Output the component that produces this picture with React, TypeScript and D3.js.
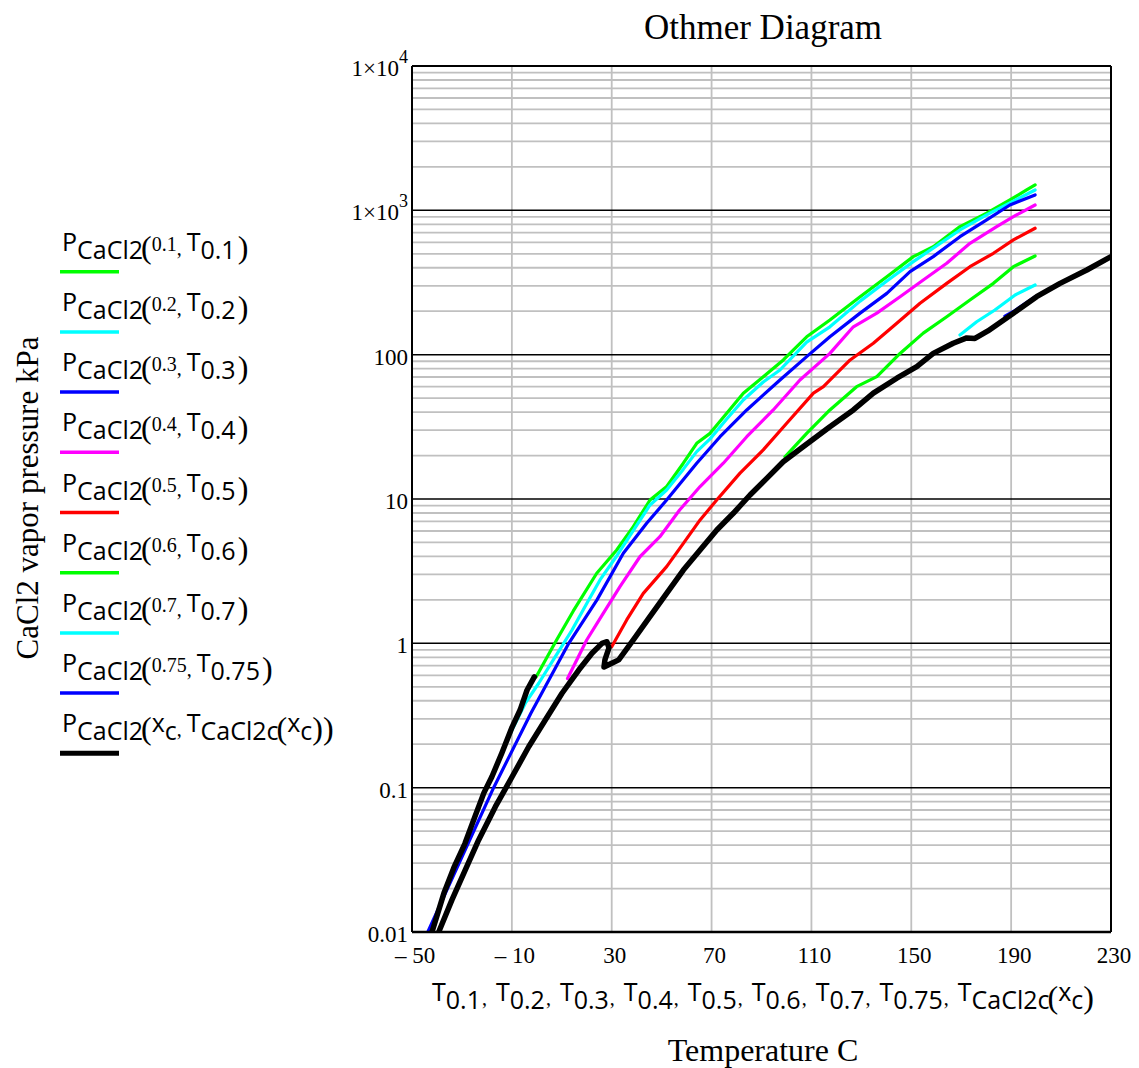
import React from 'react';
import * as d3 from 'd3';

type Pt = [number, number];

const xTicks = [-50, -10, 30, 70, 110, 150, 190, 230];
const xTickLabels = ['\u2013 50', '\u2013 10', '30', '70', '110', '150', '190', '230'];
const yTicks = [0.01, 0.1, 1, 10, 100, 1000, 10000];
const yTickMant = ['0.01', '0.1', '1', '10', '100', '1\u00d710', '1\u00d710'];
const yTickExp = ['', '', '', '', '', '3', '4'];

const legendArgs = ['0.1', '0.2', '0.3', '0.4', '0.5', '0.6', '0.7', '0.75'];
const seriesColors = ['#00ff00', '#00ffff', '#0000ff', '#ff00ff', '#ff0000', '#00ff00', '#00ffff', '#0000ff', '#000000'];

// [T (C), P (kPa)]
const w01: Pt[] = [[-0.3, 0.585], [7.69, 1.038], [14.62, 1.676], [24.0, 3.06], [32.0, 4.43], [38.65, 6.43], [45.34, 9.84], [52.03, 12.2], [58.68, 17.7], [64.05, 24.3], [69.38, 28.5], [76.07, 39.3], [82.72, 54.1], [90.73, 70.4], [98.74, 91.9], [108.1, 133], [117.4, 174], [129.5, 252], [140.2, 347], [150.8, 478], [158.8, 560], [169.5, 771], [180.2, 955], [189.5, 1180], [196.2, 1384], [199.6, 1500]];
const w02: Pt[] = [[-17, 0.131], [-9.94, 0.251], [-4.61, 0.385], [0.76, 0.529], [7.41, 0.809], [14.1, 1.237], [20.78, 1.996], [25.31, 2.75], [32.0, 4.03], [45.34, 9.09], [52.0, 11.55], [58.7, 16.1], [64.05, 21.3], [69.4, 26.1], [76.07, 35.8], [82.7, 48.5], [90.7, 64.7], [97.4, 78.3], [108.1, 122], [117.4, 156], [129.5, 235], [140.2, 324], [150.8, 441], [169.5, 731], [180.2, 929], [189.5, 1125], [199.6, 1384]];
const w03: Pt[] = [[-45, 0.0089], [-36.65, 0.01854], [-17.3, 0.1], [-2.33, 0.329], [12.8, 1.0], [24.1, 2.0], [34.65, 4.21], [44.0, 6.79], [52.0, 9.84], [64.05, 17.7], [73.4, 27.0], [84.1, 41.4], [97.4, 66.8], [108.1, 96.9], [117.4, 133], [129.5, 194], [140.2, 266], [149.5, 376], [158.8, 478], [169.5, 657], [180.2, 858], [189.5, 1089], [199.6, 1279]];
const w04: Pt[] = [[12.3, 0.57], [19.98, 1.055], [26.6, 1.615], [33.3, 2.47], [41.3, 3.98], [49.3, 5.48], [57.2, 8.39], [65.4, 12.2], [74.7, 17.7], [84.1, 27.0], [94.7, 41.4], [105.4, 66.8], [117.4, 102], [126.8, 156], [136.2, 194], [145.5, 252], [154.8, 329], [164.2, 430], [173.5, 591], [184.2, 771], [190.9, 904], [199.6, 1089]];
const w05: Pt[] = [[30.0, 0.948], [36.0, 1.452], [42.65, 2.22], [52.0, 3.40], [58.7, 4.93], [65.4, 7.16], [72.06, 9.84], [81.4, 15.1], [90.7, 21.9], [100.1, 33.5], [110.8, 54.1], [114.8, 60.0], [125.5, 91.9], [134.8, 120], [144.2, 165], [153.5, 227], [164.2, 312], [173.5, 407], [182.9, 504], [190.9, 624], [199.6, 751]];
const w06: Pt[] = [[99.4, 19.6], [108.1, 28.5], [117.4, 41.4], [128.1, 60.0], [136.2, 70.4], [145.5, 102], [154.8, 141], [164.2, 183], [173.5, 239], [182.9, 312], [190.9, 407], [199.6, 483]];
const w07: Pt[] = [[169.5, 137], [176.2, 169], [183.5, 204], [191.6, 259], [199.6, 304]];
const w075: Pt[] = [[187.5, 185], [190.9, 199], [199.6, 252]];
const crystal: Pt[] = [[-1.0, 0.585], [-3.9, 0.475], [-6.7, 0.345], [-9.9, 0.263], [-14.0, 0.174], [-18.0, 0.119], [-21.2, 0.092], [-24.8, 0.063], [-28.8, 0.041], [-33.2, 0.028], [-37.2, 0.0186], [-42.0, 0.01], [-44.0, 0.0075], [-39.3, 0.01], [-34.0, 0.0167], [-28.65, 0.0269], [-23.3, 0.0434], [-16.6, 0.0738], [-9.9, 0.119], [-3.25, 0.192], [3.4, 0.294], [10.1, 0.451], [16.8, 0.653], [22.1, 0.853], [26.1, 1.0], [28.1, 1.026], [28.9, 0.93], [27.3, 0.77], [26.9, 0.685], [30.0, 0.728], [32.8, 0.768], [38.65, 1.055], [45.3, 1.53], [52.0, 2.22], [58.7, 3.22], [65.4, 4.43], [72.1, 6.10], [78.7, 7.96], [85.4, 10.66], [92.1, 13.9], [98.7, 18.1], [106.8, 23.1], [117.4, 31.7], [126.8, 41.4], [134.8, 54.1], [144.2, 68.7], [152.2, 82.6], [158.8, 102], [166.8, 120], [172.2, 130.6], [175.5, 129.5], [180.7, 146], [190.9, 193.6], [200.2, 252], [209.6, 312], [220.3, 386], [230, 478]];

const allSeries: Pt[][] = [w01, w02, w03, w04, w05, w06, w07, w075, crystal];

const W = 1139;
const H = 1068;
const SANS = "'Open Sans', 'Noto Sans', sans-serif";
const SERIF = "'Liberation Serif', 'Times New Roman', serif";

type Part = { t: string; k: 'm' | 's' | 'a' | 'p' | 'c'; dx?: number };

function MathText({ x, y, parts }: { x: number; y: number; parts: Part[] }) {
  return (
    <text x={x} y={y} fill="#000">
      {parts.map((p, i) => {
        let fam = SANS, size = 25, yy = y;
        if (p.k === 's') { yy = y + 8; }
        if (p.k === 'a') { fam = SERIF; size = 20; }
        if (p.k === 'c') { fam = SERIF; size = 20; yy = y + 4; }
        if (p.k === 'p') { fam = SERIF; size = 32; yy = y + 7; }
        return (
          <tspan key={i} y={yy} dx={p.dx ?? 0} fontFamily={fam} fontSize={size}>{p.t}</tspan>
        );
      })}
    </text>
  );
}

export default function App() {
  const x = d3.scaleLinear().domain([-50, 230]).range([412, 1111]);
  const y = d3.scaleLog().domain([0.01, 10000]).range([932, 66]);
  const line = d3.line<Pt>().x(d => x(d[0])).y(d => y(d[1]));

  const minor: number[] = [];
  for (let d = -2; d < 4; d++) for (let k = 2; k <= 9; k++) minor.push(k * Math.pow(10, d));

  const legendParts: Part[][] = legendArgs.map(a => [
    { t: 'P', k: 'm' }, { t: 'CaCl2', k: 's' }, { t: '(', k: 'p', dx: -2 }, { t: a, k: 'a' },
    { t: ', ', k: 'c' }, { t: 'T', k: 'm' }, { t: a, k: 's' }, { t: ')', k: 'p', dx: 2 },
  ]);
  legendParts.push([
    { t: 'P', k: 'm' }, { t: 'CaCl2', k: 's' }, { t: '(', k: 'p', dx: -2 }, { t: 'x', k: 'm' }, { t: 'c', k: 's' },
    { t: ', ', k: 'c' }, { t: 'T', k: 'm' }, { t: 'CaCl2c', k: 's' }, { t: '(', k: 'p', dx: -2 }, { t: 'x', k: 'm' },
    { t: 'c', k: 's' }, { t: ')', k: 'p' }, { t: ')', k: 'p' },
  ]);

  const xlabParts: Part[] = [];
  legendArgs.forEach((a, i) => {
    xlabParts.push({ t: 'T', k: 'm', dx: i === 0 ? 0 : 9 }, { t: a, k: 's' }, { t: ',', k: 'c', dx: 1 });
  });
  xlabParts.push({ t: 'T', k: 'm', dx: 9 }, { t: 'CaCl2c', k: 's' }, { t: '(', k: 'p', dx: -2 }, { t: 'x', k: 'm' }, { t: 'c', k: 's' }, { t: ')', k: 'p' });

  const [x0, x1] = x.range();
  const [yb, yt] = y.range();

  return (
    <svg width={W} height={H} style={{ position: 'absolute', left: 0, top: 0, background: '#fff' }}>
      <defs>
        <clipPath id="plot">
          <rect x={x0} y={yt} width={x1 - x0} height={yb - yt} />
        </clipPath>
      </defs>
      <rect x={0} y={0} width={W} height={H} fill="#fff" />
      <text x={763} y={39} textAnchor="middle" fontFamily={SERIF} fontSize={35}>Othmer Diagram</text>

      {/* grid */}
      {minor.map(v => (
        <line key={'m' + v} x1={x0} x2={x1} y1={y(v)} y2={y(v)} stroke="#c0c0c0" strokeWidth={1.8} />
      ))}
      {xTicks.slice(1, -1).map(v => (
        <line key={'v' + v} x1={x(v)} x2={x(v)} y1={yt} y2={yb} stroke="#c0c0c0" strokeWidth={1.8} />
      ))}
      {yTicks.slice(1, -1).map(v => (
        <line key={'M' + v} x1={x0} x2={x1} y1={y(v)} y2={y(v)} stroke="#000" strokeWidth={1.5} />
      ))}

      {/* series */}
      <g clipPath="url(#plot)" fill="none" strokeLinejoin="round" strokeLinecap="round">
        {allSeries.map((s, i) => (
          <path key={i} d={line(s) || ''} stroke={seriesColors[i]} strokeWidth={i === 8 ? 5.5 : 3.2} />
        ))}
      </g>

      {/* frame */}
      <line x1={x0} x2={x1} y1={yt} y2={yt} stroke="#000" strokeWidth={1.8} />
      <line x1={x0} x2={x1} y1={yb} y2={yb} stroke="#000" strokeWidth={2.5} />
      <line x1={x0} x2={x0} y1={yt} y2={yb} stroke="#000" strokeWidth={2} />
      <line x1={x1} x2={x1} y1={yt} y2={yb} stroke="#000" strokeWidth={2} />

      {/* y ticks */}
      {yTicks.map((v, i) => (
        <text key={'yt' + v} x={408} y={y(v) + 10} textAnchor="end" fontFamily={SERIF} fontSize={23}>
          {yTickMant[i]}
          {yTickExp[i] ? <tspan dy={-13} fontSize={18}>{yTickExp[i]}</tspan> : null}
        </text>
      ))}
      {/* x ticks */}
      {xTicks.map((v, i) => (
        <text key={'xt' + v} x={x(v) + 3} y={963} textAnchor="middle" fontFamily={SERIF} fontSize={23}>{xTickLabels[i]}</text>
      ))}

      <MathText x={432} y={1001} parts={xlabParts} />
      <text x={763} y={1061} textAnchor="middle" fontFamily={SERIF} fontSize={32}>Temperature C</text>
      <text transform="translate(38,498) rotate(-90)" textAnchor="middle" fontFamily={SERIF} fontSize={31}>CaCl2 vapor pressure kPa</text>

      {/* legend */}
      {legendParts.map((parts, i) => {
        const ly = 271.7 + 60.2 * i;
        return (
          <g key={'lg' + i}>
            <MathText x={62} y={ly - 21} parts={parts} />
            <line x1={60} x2={119} y1={ly} y2={ly} stroke={seriesColors[i]} strokeWidth={i === 8 ? 5 : 3.5} />
          </g>
        );
      })}
    </svg>
  );
}
